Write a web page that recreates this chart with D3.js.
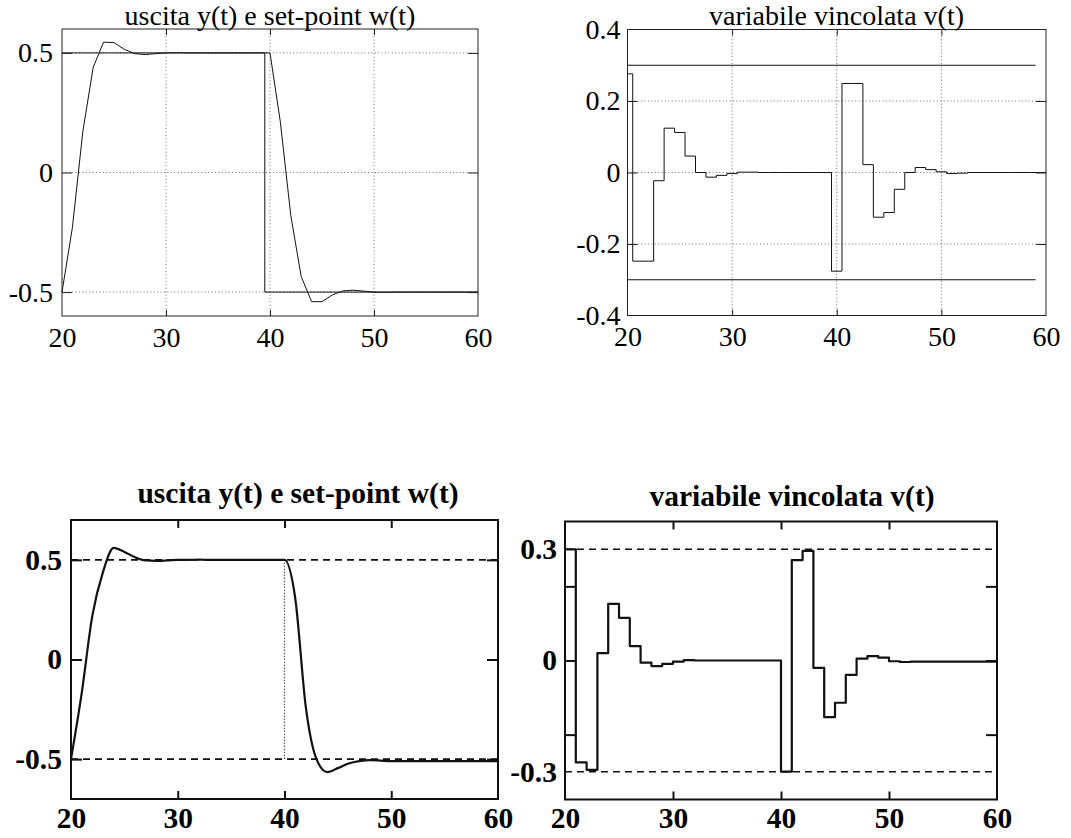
<!DOCTYPE html>
<html>
<head>
<meta charset="utf-8">
<script src="https://cdn.jsdelivr.net/npm/d3@7"></script>
<style>
  html, body { margin: 0; padding: 0; background: #fff; }
  svg { display: block; }
</style>
</head>
<body>
<svg id="fig" width="1071" height="838"></svg>
<script>
// ---- data -------------------------------------------------------------
// sampling instants (one sample per time unit)
const tSamples = [20, 21, 22, 23, 24, 25, 26, 27, 28, 29, 30, 31, 32, 33, 34, 35, 36, 37, 38, 39, 40,
                  41, 42, 43, 44, 45, 46, 47, 48, 49, 50, 51, 52, 53, 54, 55, 56, 57, 58, 59, 60];

// upper row: output y(t), set-point w(t), constrained variable v(t)
const yOutTop = [-0.5, -0.23, 0.17, 0.44, 0.545, 0.543, 0.515, 0.497, 0.493, 0.497, 0.5,
                 0.501, 0.5, 0.5, 0.5, 0.5, 0.5, 0.5, 0.5, 0.5, 0.5,
                 0.21, -0.18, -0.435, -0.54, -0.54, -0.512, -0.495, -0.492, -0.496, -0.5,
                 -0.501, -0.5, -0.5, -0.5, -0.5, -0.5, -0.5, -0.5, -0.5, -0.5];
const wSetTop = [0.5, 0.5, 0.5, 0.5, 0.5, 0.5, 0.5, 0.5, 0.5, 0.5, 0.5,
                 0.5, 0.5, 0.5, 0.5, 0.5, 0.5, 0.5, 0.5, 0.5, -0.5,
                 -0.5, -0.5, -0.5, -0.5, -0.5, -0.5, -0.5, -0.5, -0.5, -0.5,
                 -0.5, -0.5, -0.5, -0.5, -0.5, -0.5, -0.5, -0.5, -0.5, -0.5];
const vTop = [0.276, -0.248, -0.248, -0.023, 0.124, 0.112, 0.046, 0.0, -0.013, -0.008, -0.003,
              0.001, 0.001, 0, 0, 0, 0, 0, 0, 0, -0.276,
              0.249, 0.249, 0.022, -0.125, -0.112, -0.047, 0.0, 0.014, 0.008, 0.002,
              -0.003, -0.002, 0, 0, 0, 0, 0, 0, 0, 0];
const vBoundsTop = [0.3, -0.3];
const vBoundSpanTop = [20, 59];

// lower row
const yOutBottom = [-0.5, -0.17, 0.22, 0.44, 0.56, 0.54, 0.513, 0.497, 0.495, 0.497, 0.5,
                    0.5, 0.501, 0.5, 0.5, 0.5, 0.5, 0.5, 0.5, 0.5, 0.5,
                    0.31, -0.24, -0.5, -0.565, -0.545, -0.522, -0.51, -0.505, -0.507, -0.51,
                    -0.51, -0.51, -0.51, -0.51, -0.51, -0.51, -0.51, -0.51, -0.51, -0.51];
const wLevelsBottom = [0.5, -0.5];
const wStepTimeBottom = 40;
// held over [t, t+1); the last entry closes the plot at t = 60
const vBottom = [0.3, -0.275, -0.295, 0.02, 0.153, 0.115, 0.039, -0.006, -0.015, -0.009, -0.003,
                 0.001, 0, 0, 0, 0, 0, 0, 0, 0, -0.3,
                 0.271, 0.296, -0.02, -0.153, -0.114, -0.039, 0.005, 0.012, 0.008, -0.002,
                 -0.004, -0.003, -0.003, -0.003, -0.003, -0.003, -0.003, -0.003, -0.003, -0.003];
const vBoundsBottom = [0.3, -0.3];

// axis ticks
const xTicks = [20, 30, 40, 50, 60];
const xInnerTicks = [30, 40, 50];
const yTicksOutTop = [-0.5, 0, 0.5];
const yTicksVTop = [-0.4, -0.2, 0, 0.2, 0.4];
const yGridVTop = [-0.2, 0, 0.2];
const yTicksOutBottom = [-0.5, 0, 0.5];
const yLabelsVBottom = [-0.3, 0, 0.3];
const yMarksVBottom = [-0.2, 0, 0.2];

const titleOut = "uscita y(t) e set-point w(t)";
const titleV = "variabile vincolata v(t)";

// ---- drawing -----------------------------------------------------------
const svg = d3.select("#fig");
const FONT = "'Liberation Serif', 'Times New Roman', serif";
const fmt = d => String(d);

function makePanel(box, yDomain) {
  const x = d3.scaleLinear().domain([20, 60]).range([box.left, box.right]);
  const y = d3.scaleLinear().domain(yDomain).range([box.bottom, box.top]);
  return { x, y, box };
}

function styleAxis(sel, o) {
  sel.select(".domain").remove();
  sel.selectAll("line").attr("stroke", o.color).attr("stroke-width", o.width);
  sel.selectAll("text")
    .attr("font-family", FONT)
    .attr("font-size", o.size)
    .attr("font-weight", o.weight)
    .attr("fill", "#000");
  sel.attr("font-family", null).attr("font-size", null);
}

function drawAxes(p, o) {
  const { x, y, box } = p;
  const g = svg.append("g");
  // left (labelled)
  g.append("g").attr("transform", `translate(${box.left},0)`)
    .call(d3.axisLeft(y).tickValues(o.yLabels).tickSizeInner(0).tickSizeOuter(0)
      .tickPadding(o.yPad).tickFormat(fmt))
    .call(s => styleAxis(s, o));
  g.append("g").attr("transform", `translate(${box.left},0)`)
    .call(d3.axisLeft(y).tickValues(o.yMarks).tickSizeInner(-o.yTick).tickSizeOuter(0).tickFormat(""))
    .call(s => styleAxis(s, o));
  // right
  g.append("g").attr("transform", `translate(${box.right},0)`)
    .call(d3.axisRight(y).tickValues(o.yMarks).tickSizeInner(-o.yTick).tickSizeOuter(0).tickFormat(""))
    .call(s => styleAxis(s, o));
  // bottom (labelled)
  g.append("g").attr("transform", `translate(0,${box.bottom})`)
    .call(d3.axisBottom(x).tickValues(xTicks).tickSizeInner(0).tickSizeOuter(0)
      .tickPadding(o.xPad).tickFormat(fmt))
    .call(s => styleAxis(s, o));
  g.append("g").attr("transform", `translate(0,${box.bottom})`)
    .call(d3.axisBottom(x).tickValues(xInnerTicks).tickSizeInner(-o.xTick).tickSizeOuter(0).tickFormat(""))
    .call(s => styleAxis(s, o));
  // top
  g.append("g").attr("transform", `translate(0,${box.top})`)
    .call(d3.axisTop(x).tickValues(xInnerTicks).tickSizeInner(-o.xTick).tickSizeOuter(0).tickFormat(""))
    .call(s => styleAxis(s, o));
  // frame
  svg.append("rect")
    .attr("x", box.left).attr("y", box.top)
    .attr("width", box.right - box.left).attr("height", box.bottom - box.top)
    .attr("fill", "none").attr("stroke", o.color).attr("stroke-width", o.width);
}

function drawGrid(p, xs, ys) {
  const { x, y } = p;
  const g = svg.append("g").attr("stroke", "#6a6a6a").attr("stroke-width", 1)
    .attr("stroke-dasharray", "1,2.4");
  xs.forEach(v => g.append("line").attr("x1", x(v)).attr("x2", x(v))
    .attr("y1", y.range()[0]).attr("y2", y.range()[1]));
  ys.forEach(v => g.append("line").attr("x1", x.range()[0]).attr("x2", x.range()[1])
    .attr("y1", y(v)).attr("y2", y(v)));
}

function title(text, cx, baseline, weight, size) {
  svg.append("text").attr("x", cx).attr("y", baseline)
    .attr("text-anchor", "middle")
    .attr("font-family", FONT).attr("font-size", size).attr("font-weight", weight)
    .text(text);
}

function path(p, ys, curve, stroke, width, dash) {
  const line = d3.line().x((d, i) => p.x(tSamples[i])).y(d => p.y(d)).curve(curve);
  const el = svg.append("path").attr("d", line(ys))
    .attr("fill", "none").attr("stroke", stroke).attr("stroke-width", width)
    .attr("stroke-linejoin", "round");
  if (dash) el.attr("stroke-dasharray", dash);
  return el;
}

const topStyle = { weight: "normal", color: "#222", width: 1, size: 28, yTick: 10, xTick: 6, xPad: 11 };
const bottomStyle = { weight: "bold", color: "#111", width: 2, size: 29.5, yTick: 11, xTick: 8, xPad: 8 };

// ---------------- upper left: y(t), w(t) ----------------
const pTL = makePanel({ left: 62, right: 478, top: 29, bottom: 316 }, [-0.6, 0.6]);
drawGrid(pTL, xInnerTicks, yTicksOutTop);
path(pTL, wSetTop, d3.curveStep, "#111", 1);
path(pTL, yOutTop, d3.curveLinear, "#111", 1);
drawAxes(pTL, Object.assign({ yLabels: yTicksOutTop, yMarks: yTicksOutTop, yPad: 9 }, topStyle));
title(titleOut, 270, 25, "normal", 28);

// ---------------- upper right: v(t) ----------------
const pTR = makePanel({ left: 627.5, right: 1046, top: 29.5, bottom: 315.5 }, [-0.4, 0.4]);
drawGrid(pTR, xInnerTicks, yGridVTop);
vBoundsTop.forEach(b => {
  svg.append("line")
    .attr("x1", pTR.x(vBoundSpanTop[0])).attr("x2", pTR.x(vBoundSpanTop[1]))
    .attr("y1", pTR.y(b)).attr("y2", pTR.y(b))
    .attr("stroke", "#111").attr("stroke-width", 1);
});
path(pTR, vTop, d3.curveStep, "#111", 1);
drawAxes(pTR, Object.assign({ yLabels: yTicksVTop, yMarks: yGridVTop, yPad: 7 }, topStyle));
title(titleV, 836.5, 25, "normal", 28);

// ---------------- lower left: y(t) with reference levels ----------------
const pBL = makePanel({ left: 71, right: 498, top: 520, bottom: 799 }, [-0.7, 0.7]);
wLevelsBottom.forEach(b => {
  svg.append("line")
    .attr("x1", pBL.x(20)).attr("x2", pBL.x(60))
    .attr("y1", pBL.y(b)).attr("y2", pBL.y(b))
    .attr("stroke", "#111").attr("stroke-width", 1.6).attr("stroke-dasharray", "7,5");
});
svg.append("line")
  .attr("x1", pBL.x(wStepTimeBottom)).attr("x2", pBL.x(wStepTimeBottom))
  .attr("y1", pBL.y(wLevelsBottom[0])).attr("y2", pBL.y(wLevelsBottom[1]))
  .attr("stroke", "#111").attr("stroke-width", 1.2).attr("stroke-dasharray", "1,2");
path(pBL, yOutBottom, d3.curveMonotoneX, "#111", 2.2);
drawAxes(pBL, Object.assign({ yLabels: yTicksOutBottom, yMarks: yTicksOutBottom, yPad: 9 }, bottomStyle));
title(titleOut, 298, 503, "bold", 29.5);

// ---------------- lower right: v(t) with bounds ----------------
const pBR = makePanel({ left: 565, right: 997, top: 521.5, bottom: 799.5 }, [-0.375, 0.375]);
vBoundsBottom.forEach(b => {
  svg.append("line")
    .attr("x1", pBR.x(20)).attr("x2", pBR.x(60))
    .attr("y1", pBR.y(b)).attr("y2", pBR.y(b))
    .attr("stroke", "#111").attr("stroke-width", 1.6).attr("stroke-dasharray", "7,5");
});
path(pBR, vBottom, d3.curveStepAfter, "#111", 2.2);
drawAxes(pBR, Object.assign({ yLabels: yLabelsVBottom, yMarks: yMarksVBottom, yPad: 8 }, bottomStyle));
title(titleV, 792, 506, "bold", 29.5);
</script>
</body>
</html>
